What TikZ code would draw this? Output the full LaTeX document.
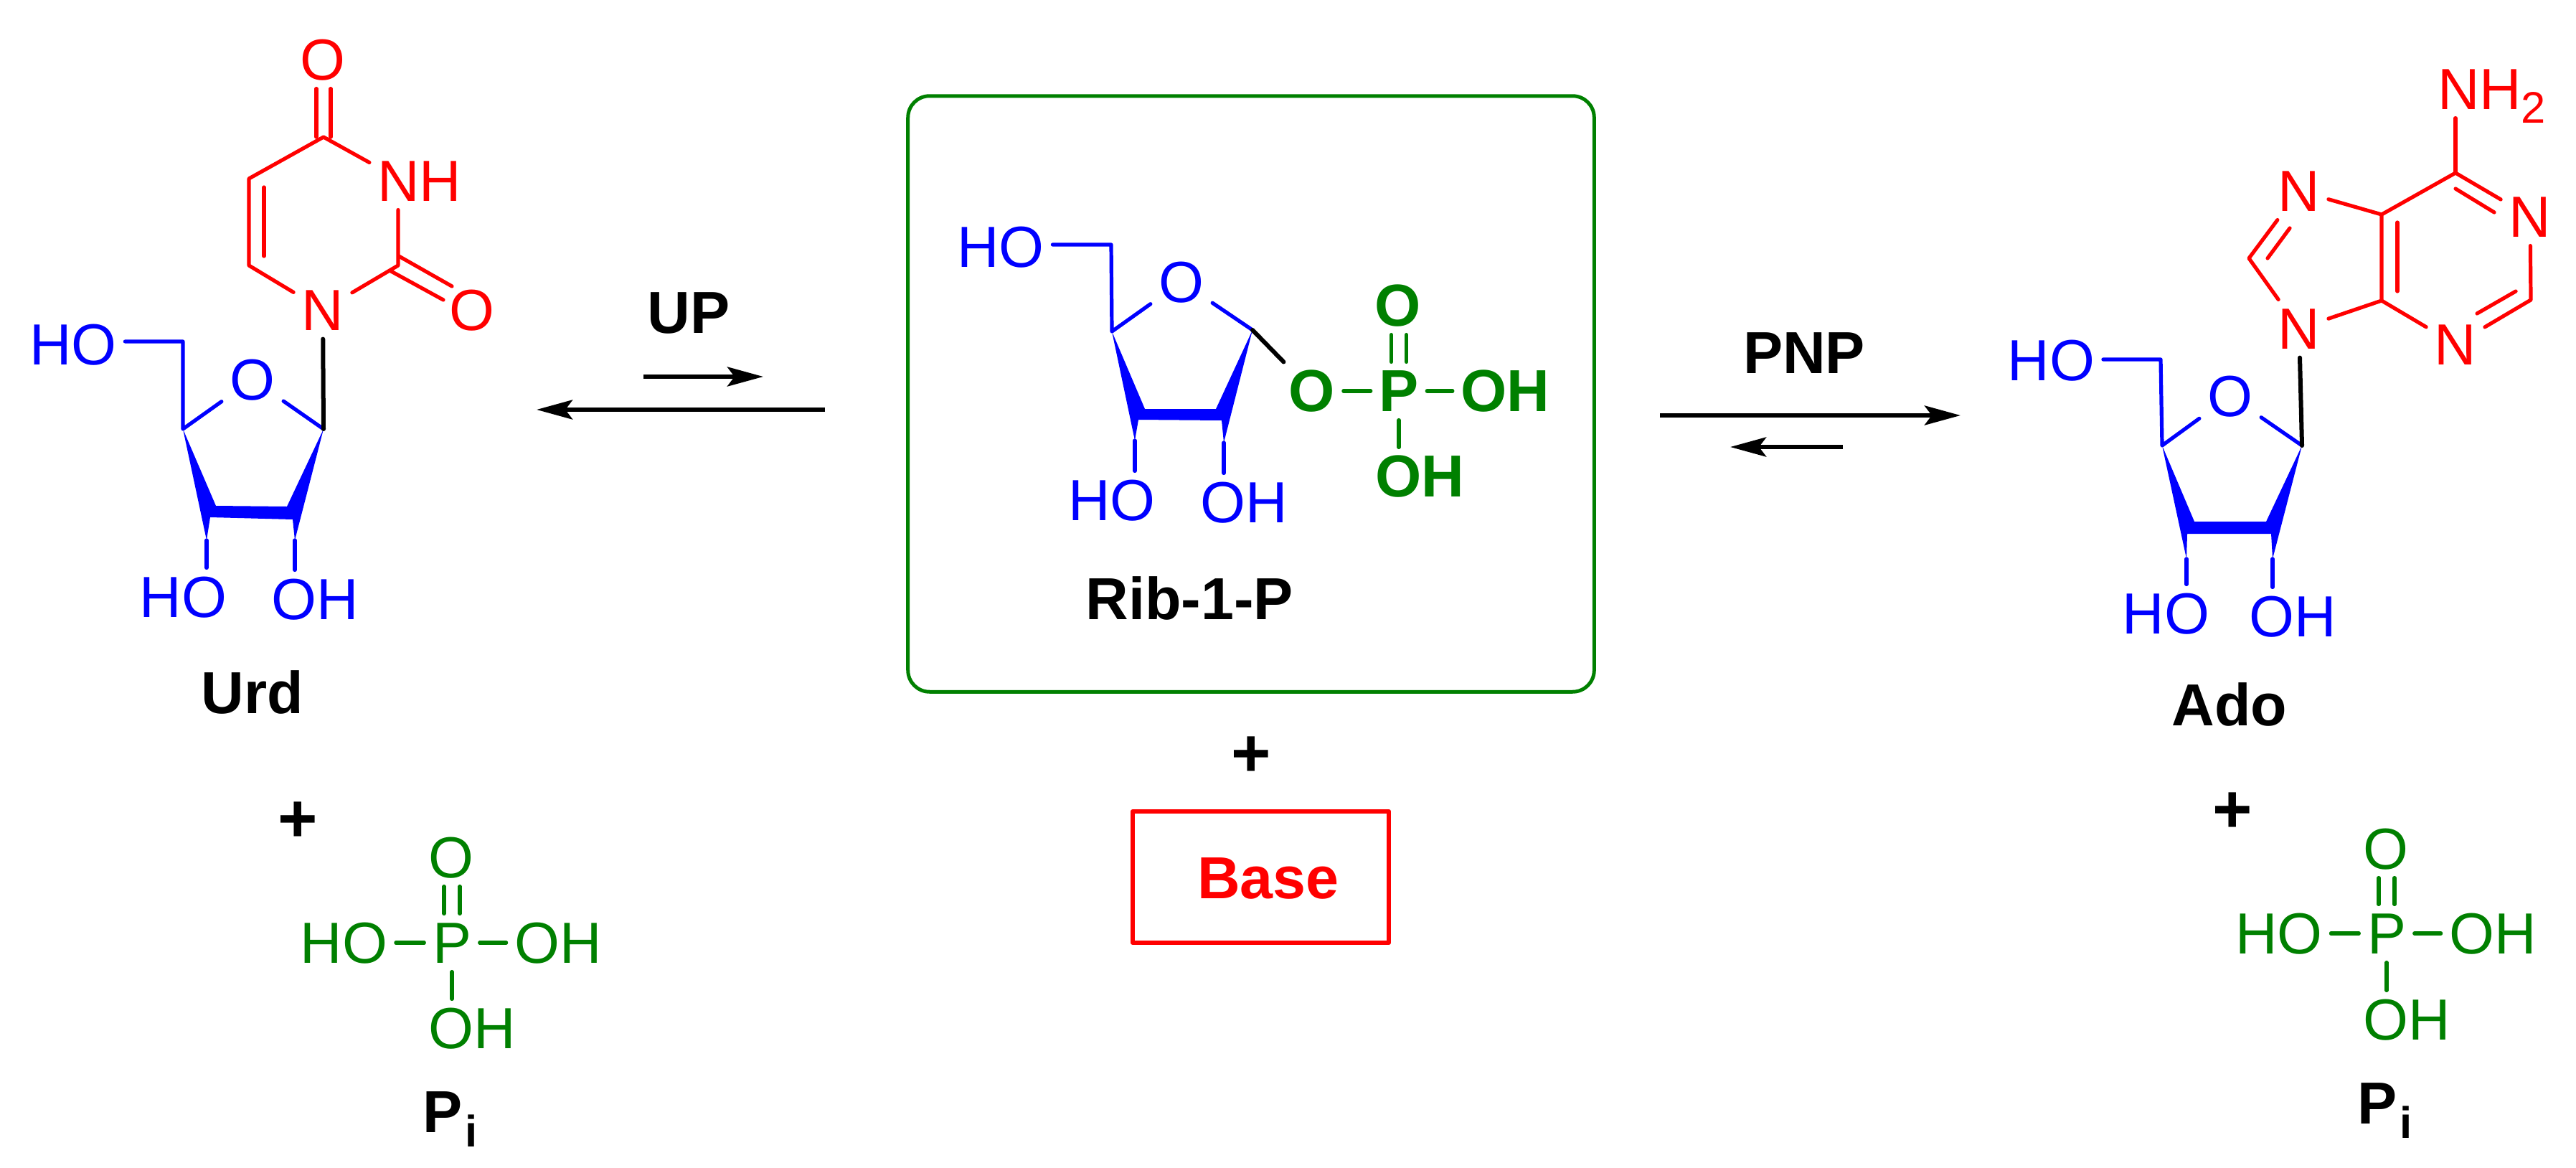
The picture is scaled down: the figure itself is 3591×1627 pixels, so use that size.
\documentclass[tikz,border=0pt]{standalone}
\usepackage{fontspec}
\setmainfont{Liberation Sans}
\usetikzlibrary{arrows.meta}
\definecolor{phosgreen}{RGB}{0,128,0}
\tikzset{
	lab/.style={inner sep=.11cm, text height=16.4pt, text depth=0pt, font=\fontsize{23}{27}\selectfont},
	boldlab/.style={lab, font=\fontsize{23.5}{27}\selectfont\bfseries},
	blueatom/.style={lab, text=blue},
	redatom/.style={lab, text=red},
	greenatom/.style={lab, text=phosgreen},
	boldgreen/.style={boldlab, text=phosgreen},
	plussign/.style={inner sep=0pt, font=\fontsize{27}{27}\selectfont\bfseries},
	bluebond/.style={draw=blue, line width=.052cm},
	redbond/.style={draw=red, line width=.052cm},
	greenbond/.style={draw=phosgreen, line width=.052cm},
	linkbond/.style={draw=black, line width=.06cm},
	eqarrow/.style={->, line width=.06cm, line cap=butt}
}
\begin{document}
\begin{tikzpicture}[x=.01cm, y=-.01cm, line join=round, line cap=round, >={Stealth[length=.5cm,width=.27cm,inset=.1cm]}]
	\useasboundingbox (0,0) rectangle (3591,1627);
	% Urd
	\foreach \n/\x/\y in {uc4/451/191, uc2/555/370, uc6/347/370, uc5/347/249, ue1/368/261, ue2/368/357, ud1/556/357, ud2/630/399, ud3/545/378, ud4/618/418, uc1/451/598, us4/255/598, us5/255/476, uw1/301/705, uw2/400/706, uw3/411/753, uw4/408/724, uw5/293/721, uw6/288/753}
		\coordinate (\n) at (\x,\y);
	\node[redatom] (uo4) at (450,83) {O};
	\node[redatom] (unh) at (585,252) {NH};
	\node[redatom] (uo2) at (658,432) {O};
	\node[redatom] (un1) at (450,432) {N};
	\draw[redbond] ([xshift=-.1cm]uc4) -- ([xshift=-.1cm]uc4 |- uo4.south);
	\draw[redbond] ([xshift=.1cm]uc4) -- ([xshift=.1cm]uc4 |- uo4.south);
	\draw[redbond] (unh.160) -- (uc4) -- (uc5) -- (uc6) -- (un1);
	\draw[redbond] (ue1) -- (ue2);
	\draw[redbond] (un1) -- (uc2) -- (uc2 |- unh.south);
	\draw[redbond] (ud1) -- (ud2);
	\draw[redbond] (ud3) -- (ud4);
	\node[blueatom] (uho5) at (102,480) {HO};
	\node[blueatom] (uos) at (352,529) {O};
	\node[blueatom] (uho3) at (255.5,832) {HO};
	\node[blueatom] (uoh2) at (439.5,835) {OH};
	\draw[bluebond] (us5 -| uho5.east) -- (us5) -- (us4) -- (uos) -- (uc1);
	\fill[blue] (us4) -- (uw1) -- (uw2) -- (uc1) -- (uw3) -- (uw4) -- (uw5) -- (uw6) -- cycle;
	\draw[bluebond] (uw6) -- (uw6 |- uho3.north);
	\draw[bluebond] (uw3) -- (uw3 |- uoh2.north);
	\draw[linkbond] (un1) -- (uc1);
	\node[boldlab] (urd) at (352,966) {Urd};
	% arrows
	\foreach \n/\x/\y in {up1/897/525, up2/1064/525, up3/1150/571, up4/748/571, pn1/2314/579, pn2/2733/579, pn3/2569/623, pn4/2412/623}
		\coordinate (\n) at (\x,\y);
	\node[boldlab] (uplab) at (960,436) {UP};
	\draw[eqarrow] (up1) -- (up2);
	\draw[eqarrow] (up3) -- (up4);
	\node[boldlab] (pnplab) at (2515,492) {PNP};
	\draw[eqarrow] (pn1) -- (pn2);
	\draw[eqarrow] (pn3) -- (pn4);
	% Rib-1-P
	\node[draw=phosgreen, line width=.05cm, rounded corners=.3cm, minimum width=9.56cm, minimum height=8.3cm] (ribbox) at (1744,549) {};
	\foreach \n/\x/\y in {rc1/1746/460, rs4/1550/462, rs5/1549/341, rw1/1596/570, rw2/1695/570, rw3/1706/617, rw4/1703/586, rw5/1587/585, rw6/1582/614}
		\coordinate (\n) at (\x,\y);
	\node[blueatom] (rho5) at (1395,344) {HO};
	\node[blueatom] (ros) at (1647,393) {O};
	\node[blueatom] (rho3) at (1550,697) {HO};
	\node[blueatom] (roh2) at (1734,700) {OH};
	\draw[bluebond] (rs5 -| rho5.east) -- (rs5) -- (rs4) -- (ros) -- (rc1);
	\fill[blue] (rs4) -- (rw1) -- (rw2) -- (rc1) -- (rw3) -- (rw4) -- (rw5) -- (rw6) -- cycle;
	\draw[bluebond] (rw6) -- (rw6 |- rho3.north);
	\draw[bluebond] (rw3) -- (rw3 |- roh2.north);
	\node[boldgreen] (rol) at (1829,545) {O};
	\node[boldgreen] (rp) at (1950,545) {P};
	\node[boldgreen] (ropo) at (1949,426) {O};
	\node[boldgreen] (roh) at (2098.5,545) {OH};
	\node[boldgreen] (roh3) at (1979,664) {OH};
	\draw[linkbond] (rc1) -- (rol);
	\draw[greenbond] (rol) -- (rp) -- (roh);
	\draw[greenbond] (rp.south) -- (rp.south |- roh3.north);
	\draw[greenbond] ([xshift=-.105cm]rp.north) -- ([xshift=-.105cm]rp.north |- ropo.south);
	\draw[greenbond] ([xshift=.105cm]rp.north) -- ([xshift=.105cm]rp.north |- ropo.south);
	\node[boldlab] (riblab) at (1658,835) {Rib-1-P};
	\node[plussign] (plusb) at (1744,1055) {+};
	\node[draw=red, line width=.06cm, minimum width=3.57cm, minimum height=1.83cm] (basebox) at (1757.5,1222.5) {};
	\node[boldlab, text=red] (baselab) at (1768,1224) {Base};
	% Ado
	\foreach \n/\x/\y in {ac6/3423/241, ac2/3528/418, ac4/3320/419, ac5/3320/299, ac8/3135/360, ae1/3423/263, ae2/3477/296, ae3/3507/406, ae4/3453/437, ae5/3342/310, ae6/3342/406, ae7/3192/318, ae8/3161/360,
		as1/3209/621, as4/3014/621, as5/3012/501, aw1/3059/727, aw2/3159/727, aw3/3168/779, aw4/3166/744, aw5/3049/744, aw6/3048/779}
		\coordinate (\n) at (\x,\y);
	\node[redatom] (anh2) at (3473.5,124) {NH\raisebox{-5.4pt}{\fontsize{17.5}{17.5}\selectfont 2}};
	\node[redatom] (an1) at (3527,302) {N};
	\node[redatom] (an3) at (3423,480) {N};
	\node[redatom] (an7) at (3205,266) {N};
	\node[redatom] (an9) at (3205,458) {N};
	\draw[redbond] (ac6) -- (ac6 |- anh2.south);
	\draw[redbond] (an1) -- (ac6) -- (ac5) -- (ac4) -- (an3) -- (ac2) -- (an1);
	\draw[redbond] (an7) -- (ac5);
	\draw[redbond] (an9) -- (ac4);
	\draw[redbond] (an7) -- (ac8) -- (an9);
	\draw[redbond] (ae1) -- (ae2);
	\draw[redbond] (ae3) -- (ae4);
	\draw[redbond] (ae5) -- (ae6);
	\draw[redbond] (ae7) -- (ae8);
	\node[blueatom] (aho5) at (2859.5,502) {HO};
	\node[blueatom] (aos) at (3109,552) {O};
	\node[blueatom] (aho3) at (3019.5,855) {HO};
	\node[blueatom] (aoh2) at (3196.5,859) {OH};
	\draw[bluebond] (as5 -| aho5.east) -- (as5) -- (as4) -- (aos) -- (as1);
	\fill[blue] (as4) -- (aw1) -- (aw2) -- (as1) -- (aw3) -- (aw4) -- (aw5) -- (aw6) -- cycle;
	\draw[bluebond] (aw6) -- (aw6 |- aho3.north);
	\draw[bluebond] (aw3) -- (aw3 |- aoh2.north);
	\draw[linkbond] (an9) -- (as1);
	\node[boldlab] (ado) at (3108,983) {Ado};
	% Pi left
	\node[plussign] (plusu) at (415,1146) {+};
	\node[greenatom] (io) at (629,1195) {O};
	\node[greenatom] (ip) at (630,1314) {P};
	\node[greenatom] (iho) at (479.5,1314) {HO};
	\node[greenatom] (ioh) at (778,1314) {OH};
	\node[greenatom] (ioh3) at (658,1433) {OH};
	\draw[greenbond] (iho) -- (ip) -- (ioh);
	\draw[greenbond] (ip.south) -- (ip.south |- ioh3.north);
	\draw[greenbond] ([xshift=-.11cm]ip.north) -- ([xshift=-.11cm]ip.north |- io.south);
	\draw[greenbond] ([xshift=.11cm]ip.north) -- ([xshift=.11cm]ip.north |- io.south);
	\node[boldlab] (ipi) at (627.5,1550) {P\kern1pt\raisebox{-5.7pt}{\fontsize{17.5}{17.5}\selectfont i}};
	% Pi right
	\node[plussign] (plusa) at (3112,1133) {+};
	\node[greenatom] (jo) at (3326,1183) {O};
	\node[greenatom] (jp) at (3327,1301) {P};
	\node[greenatom] (jho) at (3177,1301) {HO};
	\node[greenatom] (joh) at (3475,1301) {OH};
	\node[greenatom] (joh3) at (3355,1421) {OH};
	\draw[greenbond] (jho) -- (jp) -- (joh);
	\draw[greenbond] (jp.south) -- (jp.south |- joh3.north);
	\draw[greenbond] ([xshift=-.11cm]jp.north) -- ([xshift=-.11cm]jp.north |- jo.south);
	\draw[greenbond] ([xshift=.11cm]jp.north) -- ([xshift=.11cm]jp.north |- jo.south);
	\node[boldlab] (jpi) at (3324.5,1537.5) {P\kern1pt\raisebox{-5.7pt}{\fontsize{17.5}{17.5}\selectfont i}};
\end{tikzpicture}
\end{document}
